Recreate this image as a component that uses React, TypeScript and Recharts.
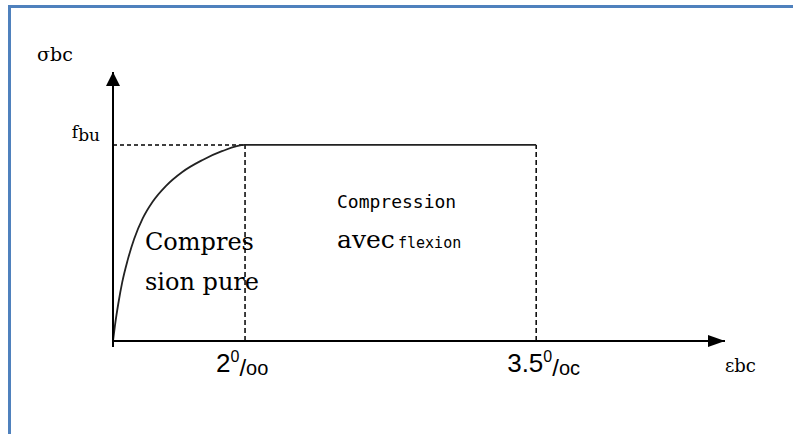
import React from "react";
import { LineChart, Line, XAxis, YAxis, ReferenceLine, ReferenceDot } from "recharts";

// Parabola-rectangle diagram (schematic positions along the strain axis)
const curveStrain = [0, 0.03, 0.08, 0.14, 0.22, 0.32, 0.45, 0.6, 0.8, 1.05, 1.35, 1.65, 2.0];
const curveStress = [0, 0.08, 0.19, 0.3, 0.41, 0.52, 0.625, 0.71, 0.79, 0.862, 0.922, 0.968, 1.0];
const peakStrain = 2; // position of 2‰
const ultimateStrain = 6.41; // position of 3.5‰ (diagram not to scale)
const fbu = 1;
const xMax = 9.27;
const yMax = 1.372;

const xTickPos = [2, 6.41];
const xTickMain = ["2", "3.5"];
const xTickSup = ["0", "0"];
const xTickSub = ["oo", "oc"];
const yTickPos = [1];

const data = curveStrain
  .map((x, i) => ({ x, y: curveStress[i] }))
  .concat([{ x: ultimateStrain, y: fbu }]);

const XTick = (props: any) => {
  const { x, y, payload } = props;
  const i = xTickPos.indexOf(payload.value);
  if (i < 0) return null;
  return (
    <text x={x - 29} y={y + 31} fontFamily="'Liberation Sans', Arial, sans-serif" fontSize={26} fill="#000">
      {xTickMain[i]}
      <tspan fontSize={16} dy={-10}>{xTickSup[i]}</tspan>
      <tspan fontSize={24} dy={14}>/</tspan>
      <tspan fontSize={20} dy={-1}>{xTickSub[i]}</tspan>
    </text>
  );
};

const YTick = (props: any) => {
  const { x, y } = props;
  return (
    <text x={x} y={y - 7} textAnchor="end" fontFamily="'DejaVu Serif', serif" fontSize={17} fill="#000">
      f<tspan dy={3}>bu</tspan>
    </text>
  );
};

const upArrow = (p: any) => (
  <path d={`M${p.cx},${p.cy} L${p.cx - 7},${p.cy + 14} L${p.cx + 7},${p.cy + 14} Z`} fill="#000" />
);
const rightArrow = (p: any) => (
  <path d={`M${p.cx},${p.cy} L${p.cx - 17},${p.cy - 6} L${p.cx - 17},${p.cy + 6} Z`} fill="#000" />
);

export default function App() {
  return (
    <div style={{ position: "absolute", left: 0, top: 0, width: 793, height: 434, overflow: "hidden", background: "#fff" }}>
      <div
        style={{
          position: "absolute",
          left: 8,
          top: 5,
          width: 785,
          height: 429,
          boxSizing: "border-box",
          borderLeft: "3px solid #4f81bd",
          borderTop: "3px solid #4f81bd",
        }}
      />
      <div style={{ position: "absolute", left: 0, top: 0 }}>
        <LineChart width={793} height={434} data={data} margin={{ top: 72, right: 68, bottom: 63, left: 53 }}>
          <XAxis
            type="number"
            dataKey="x"
            domain={[0, xMax]}
            ticks={xTickPos}
            interval={0}
            tick={<XTick />}
            tickLine={false}
            tickSize={0}
            tickMargin={0}
            height={30}
            axisLine={{ stroke: "#000", strokeWidth: 2 }}
            allowDataOverflow
          />
          <YAxis
            type="number"
            domain={[0, yMax]}
            ticks={yTickPos}
            interval={0}
            tick={<YTick />}
            tickLine={false}
            tickSize={0}
            tickMargin={13}
            width={60}
            axisLine={{ stroke: "#000", strokeWidth: 2 }}
            allowDataOverflow
          />
          <ReferenceLine segment={[{ x: 0, y: 0 }, { x: 0, y: -0.03 }]} stroke="#000" strokeWidth={2} ifOverflow="visible" />
          <ReferenceLine segment={[{ x: 0, y: fbu }, { x: peakStrain, y: fbu }]} stroke="#000" strokeWidth={1.5} strokeDasharray="4 3" />
          <ReferenceLine segment={[{ x: peakStrain, y: 0 }, { x: peakStrain, y: fbu }]} stroke="#000" strokeWidth={1.5} strokeDasharray="5 3" />
          <ReferenceLine segment={[{ x: ultimateStrain, y: 0 }, { x: ultimateStrain, y: fbu }]} stroke="#000" strokeWidth={1.5} strokeDasharray="5 3" />
          <Line dataKey="y" type="monotone" stroke="#222" strokeWidth={1.8} dot={false} isAnimationActive={false} />
          <ReferenceDot x={0} y={yMax} r={0} ifOverflow="visible" shape={upArrow} />
          <ReferenceDot x={xMax} y={0} r={0} ifOverflow="visible" shape={rightArrow} />
        </LineChart>
      </div>
      <svg width={793} height={434} style={{ position: "absolute", left: 0, top: 0, pointerEvents: "none" }}>
        <text x={37} y={61} fontFamily="'DejaVu Serif', serif" fontSize={19} fill="#000">σbc</text>
        <text x={725} y={372} fontFamily="'DejaVu Serif', serif" fontSize={18} fill="#000">εbc</text>
        <text x={145} y={250} fontFamily="'DejaVu Serif', serif" fontSize={24} fill="#000">Compres</text>
        <text x={145} y={290} fontFamily="'DejaVu Serif', serif" fontSize={24} fill="#000">sion pure</text>
        <text x={337} y={208} fontFamily="'DejaVu Sans Mono', monospace" fontSize={18} fill="#000">Compression</text>
        <text x={337} y={248} fontFamily="'DejaVu Serif', serif" fontSize={25} fill="#000">avec</text>
        <text x={398} y={248} fontFamily="'DejaVu Sans Mono', monospace" fontSize={15} fill="#000">flexion</text>
      </svg>
    </div>
  );
}
